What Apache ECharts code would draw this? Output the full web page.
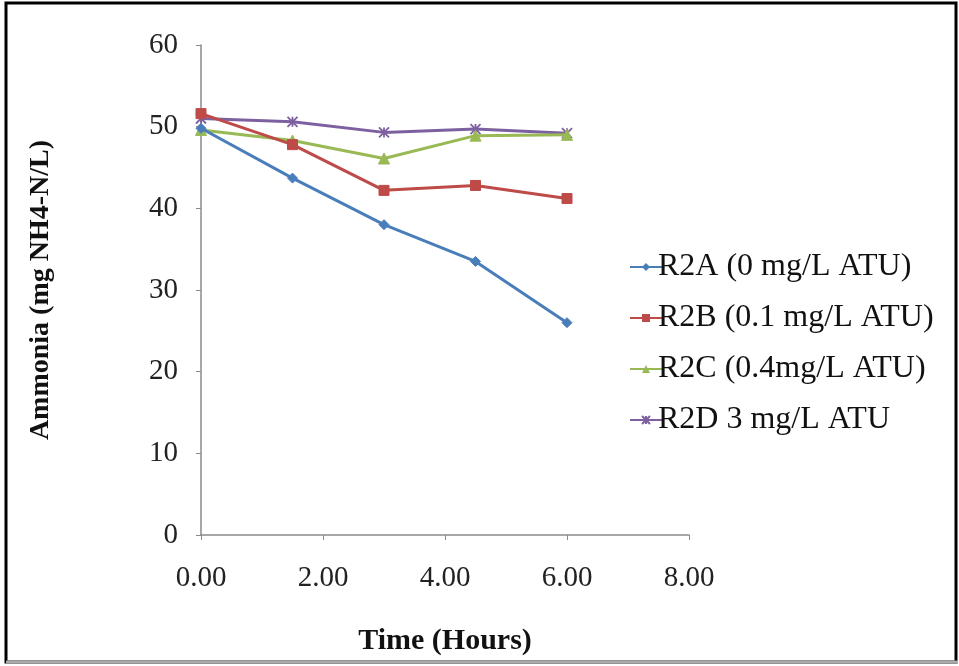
<!DOCTYPE html>
<html>
<head>
<meta charset="utf-8">
<script src="https://cdn.jsdelivr.net/npm/echarts@6/dist/echarts.min.js"></script>
<style>
html,body{margin:0;padding:0;background:#fff;}
#chart{width:959px;height:666px;}
</style>
</head>
<body>
<div id="chart"></div>
<script>
const time = [0, 1.5, 3, 4.5, 6];
const seriesNames = ['R2A (0 mg/L ATU)', 'R2B (0.1 mg/L ATU)', 'R2C (0.4mg/L ATU)', 'R2D 3 mg/L ATU'];
const r2a = [49.8, 43.7, 38.0, 33.5, 26.0];
const r2b = [51.6, 47.8, 42.2, 42.8, 41.2];
const r2c = [49.6, 48.3, 46.1, 48.9, 49.0];
const r2d = [51.0, 50.6, 49.3, 49.7, 49.2];
const xTicks = [0, 2, 4, 6, 8];
const yTicks = [0, 10, 20, 30, 40, 50, 60];

const colors = ['#4A7EBB', '#BE4B48', '#98B954', '#7D60A0'];
const symbols = ['diamond', 'rect', 'triangle', 'path://M0,0L10,10M10,0L0,10M5,0L5,10'];
const values = [r2a, r2b, r2c, r2d];
const font = '"Liberation Serif", "Times New Roman", serif';

const chart = echarts.init(document.getElementById('chart'));
chart.setOption({
  animation: false,
  backgroundColor: '#fff',
  grid: {left: 201, right: 270, top: 45, bottom: 131},
  xAxis: {
    type: 'value', min: xTicks[0], max: xTicks[xTicks.length - 1], interval: 2,
    name: 'Time (Hours)', nameLocation: 'middle', nameGap: 91,
    nameTextStyle: {fontFamily: font, fontWeight: 'bold', fontSize: 30, color: '#111'},
    axisLine: {lineStyle: {color: '#8a8a8a', width: 1.5}},
    axisTick: {show: true, inside: false, length: 5, lineStyle: {color: '#8a8a8a'}},
    splitLine: {show: false},
    axisLabel: {fontFamily: font, fontSize: 29, color: '#222', margin: 29,
      formatter: v => v.toFixed(2)}
  },
  yAxis: {
    type: 'value', min: yTicks[0], max: yTicks[yTicks.length - 1], interval: 10,
    name: 'Ammonia (mg NH4-N/L)', nameLocation: 'middle', nameGap: 146,
    nameTextStyle: {fontFamily: font, fontWeight: 'bold', fontSize: 28, color: '#111'},
    axisLine: {show: true, lineStyle: {color: '#8a8a8a', width: 1.5}},
    axisTick: {show: true, length: 5, lineStyle: {color: '#8a8a8a'}},
    splitLine: {show: false},
    axisLabel: {fontFamily: font, fontSize: 29, color: '#222', margin: 23}
  },
  legend: {
    orient: 'vertical', left: 624, top: 246, itemGap: 19,
    itemWidth: 32, itemHeight: 10,
    textStyle: {fontFamily: font, fontSize: 32, color: '#111', padding: [0, 0, 0, -9]},
    data: seriesNames
  },
  graphic: [
    {type: 'rect', shape: {x: 6, y: 3, width: 950, height: 659},
     style: {fill: 'none', stroke: '#000', lineWidth: 3}, silent: true},
    {type: 'line', shape: {x1: 6, y1: 662, x2: 958, y2: 662},
     style: {stroke: '#aaa', lineWidth: 3}, silent: true}
  ],
  series: values.map((vals, i) => ({
    name: seriesNames[i],
    type: 'line',
    data: time.map((t, j) => [t, vals[j]]),
    symbol: symbols[i],
    symbolSize: i === 2 ? 11 : 10,
    showSymbol: true,
    lineStyle: {color: colors[i], width: 3},
    itemStyle: i === 3
      ? {color: 'none', borderColor: colors[i], borderWidth: 1.8}
      : {color: colors[i], borderColor: colors[i]},
    z: 10 - i
  }))
});
</script>
</body>
</html>
